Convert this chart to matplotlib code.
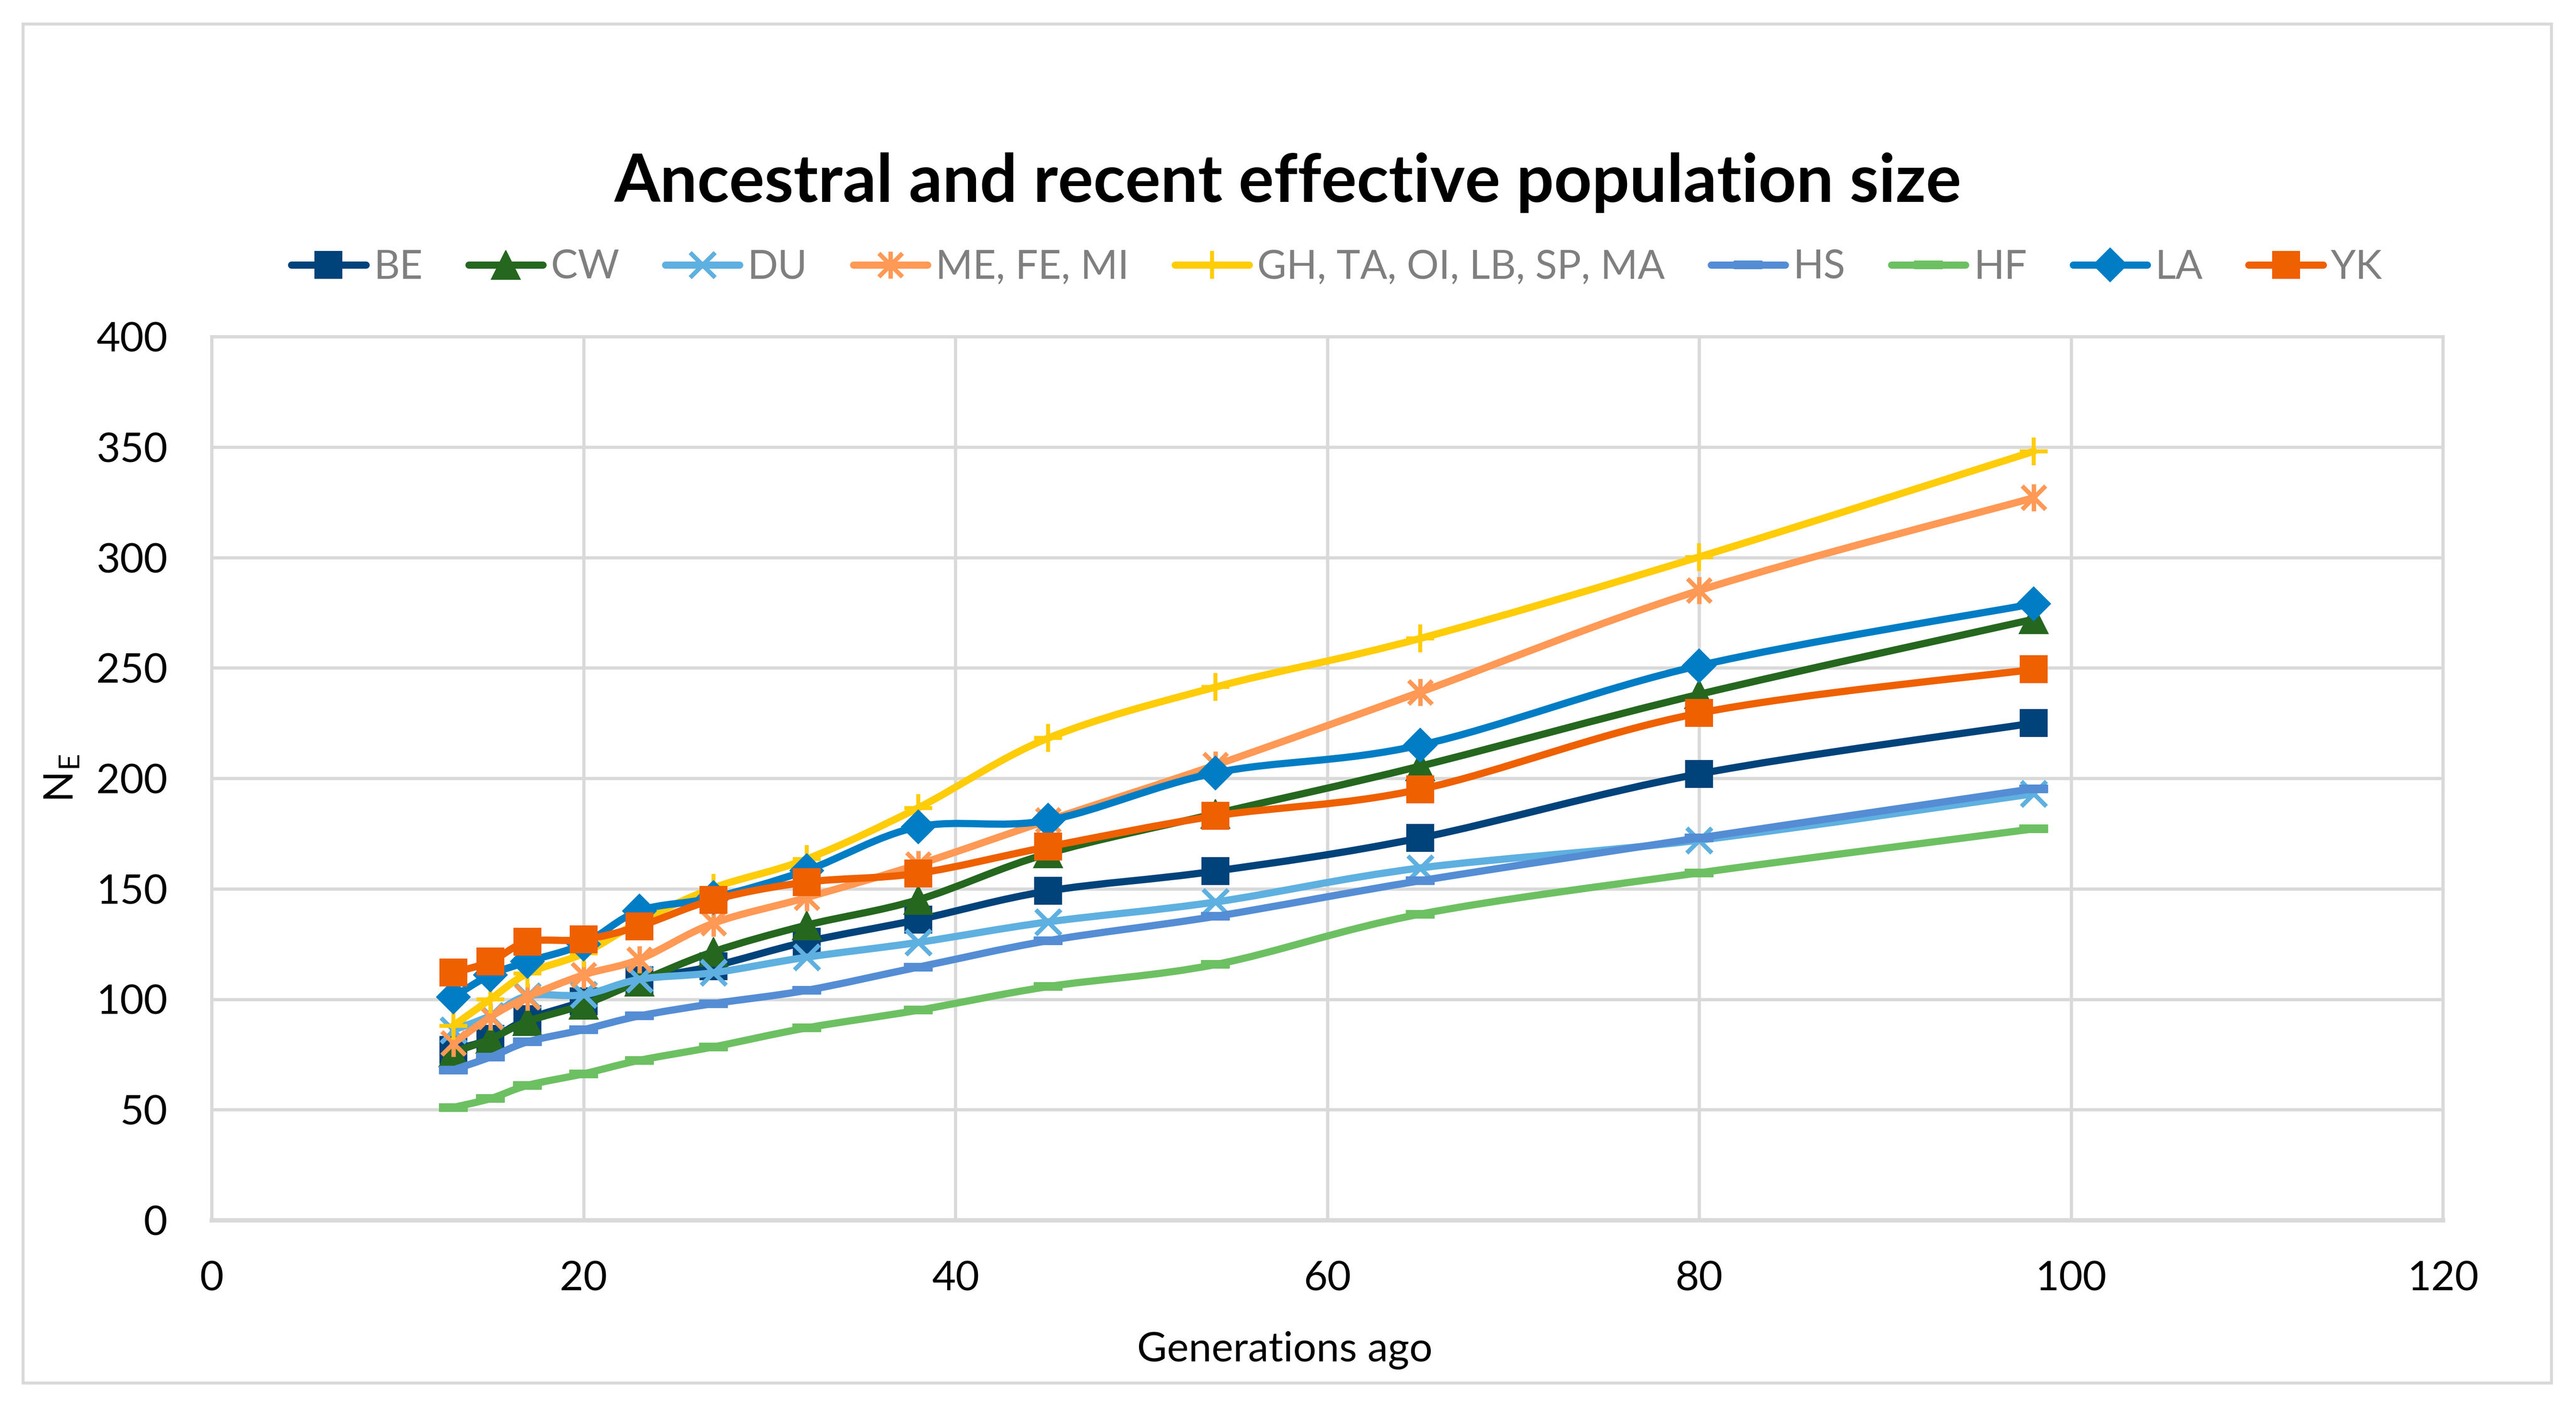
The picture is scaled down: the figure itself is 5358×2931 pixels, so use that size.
import numpy as np
import matplotlib
matplotlib.use("Agg")
import matplotlib.pyplot as plt
from matplotlib.path import Path
from matplotlib.patches import PathPatch, Rectangle
from matplotlib.lines import Line2D

plt.rcParams['font.family'] = ['Lato', 'DejaVu Sans']

# ---------------- data ----------------
generations = [13, 15, 17, 20, 23, 27, 32, 38, 45, 54, 65, 80, 98]

series_names = ["BE", "CW", "DU", "ME, FE, MI", "GH, TA, OI, LB, SP, MA", "HS", "HF", "LA", "YK"]

ne_BE = [77, 82, 91, 99, 108.5, 115, 126, 136, 149, 158, 173, 202, 225]
ne_CW = [76, 82, 90, 97.5, 108, 121.5, 133.5, 145, 166, 184, 205.5, 238, 272]
ne_DU = [86, 92.5, 101.5, 102, 109, 112, 119, 125.7, 135, 144, 159.4, 172, 193]
ne_ME = [80, 92, 101, 111, 118, 134.4, 146, 161, 181, 206, 239, 285, 327]
ne_GH = [88, 100, 111.7, 120.7, 135, 150.4, 163.4, 186.6, 218.2, 241.3, 263.3, 300.2, 348]
ne_HS = [68, 73.8, 80.7, 86.2, 92.4, 98, 104, 114.5, 126.5, 137.5, 153.6, 173, 195.3]
ne_HF = [51, 55, 61, 66.2, 72.3, 78.4, 87, 95, 105.7, 115.7, 138.5, 157.2, 177.1]
ne_LA = [101, 111, 117, 125, 140, 146, 158.3, 178, 181, 202.5, 215, 251, 279]
ne_YK = [112, 117, 126, 127, 133, 145, 153, 157, 169, 183, 195, 229.5, 249.3]

x_ticks = [0, 20, 40, 60, 80, 100, 120]
y_ticks = [0, 50, 100, 150, 200, 250, 300, 350, 400]

# ---------------- styles ----------------
asterisk = Path([(-1, -1), (1, 1), (-1, 1), (1, -1), (0, -1.15), (0, 1.15)],
                [Path.MOVETO, Path.LINETO, Path.MOVETO, Path.LINETO, Path.MOVETO, Path.LINETO])
dash = Path([(-1, -0.27), (1, -0.27), (1, 0.27), (-1, 0.27), (-1, -0.27)],
            [Path.MOVETO, Path.LINETO, Path.LINETO, Path.LINETO, Path.CLOSEPOLY])

styles = [
    dict(color="#00427A", marker="s", ms=13.5, mew=0.5, filled=True),
    dict(color="#25671F", marker="^", ms=14.5, mew=0.5, filled=True),
    dict(color="#5EB0E0", marker="x", ms=12.5, mew=2.2, filled=False),
    dict(color="#FF9955", marker=asterisk, ms=13.5, mew=2.2, filled=False),
    dict(color="#FFCC08", marker="+", ms=14.0, mew=2.0, filled=False),
    dict(color="#548DD4", marker=dash, ms=14.0, mew=0.5, filled=True),
    dict(color="#6DC062", marker=dash, ms=14.0, mew=0.5, filled=True),
    dict(color="#007DC4", marker="D", ms=12.0, mew=0.5, filled=True),
    dict(color="#EE6000", marker="s", ms=13.5, mew=0.5, filled=True),
]
all_values = [ne_BE, ne_CW, ne_DU, ne_ME, ne_GH, ne_HS, ne_HF, ne_LA, ne_YK]

LW = 3.6

W, H = 5358, 2931
fig = plt.figure(figsize=(W / 300, H / 300), dpi=300)
ax = fig.add_axes([440 / W, 1 - 2538 / H, (5081 - 440) / W, (2538 - 700) / H])


def smooth_path(xs, ys):
    pts = np.column_stack([xs, ys]).astype(float)
    n = len(pts)
    verts = [pts[0]]
    codes = [Path.MOVETO]
    for i in range(n - 1):
        p0 = pts[i - 1] if i > 0 else pts[i]
        p1 = pts[i]
        p2 = pts[i + 1]
        p3 = pts[i + 2] if i + 2 < n else pts[i + 1]
        c1 = p1 + (p2 - p0) / 6.0
        c2 = p2 - (p3 - p1) / 6.0
        verts += [c1, c2, p2]
        codes += [Path.CURVE4] * 3
    return Path(verts, codes)


handles = []
for k, (name, vals, st) in enumerate(zip(series_names, all_values, styles)):
    z = 3 + k
    patch = PathPatch(smooth_path(generations, vals), fill=False, edgecolor=st["color"],
                      lw=LW, capstyle="round", joinstyle="round", zorder=z)
    ax.add_patch(patch)
    mfc = st["color"] if st["filled"] else "none"
    ax.plot(generations, vals, linestyle="none", marker=st["marker"], ms=st["ms"],
            mfc=mfc, mec=st["color"], mew=st["mew"], zorder=z + 0.5)
    handles.append(Line2D([], [], color=st["color"], lw=LW, marker=st["marker"], ms=st["ms"],
                          mfc=mfc, mec=st["color"], mew=st["mew"], solid_capstyle="round"))

ax.set_xlim(0, 120)
ax.set_ylim(0, 400)
ax.set_xticks(x_ticks)
ax.set_yticks(y_ticks)
ax.grid(True, color="#D9D9D9", lw=1.6, zorder=0)
ax.set_axisbelow(True)
for s in ["top", "right", "left"]:
    ax.spines[s].set_color("#D9D9D9")
    ax.spines[s].set_linewidth(1.6)
ax.spines["bottom"].set_color("#D9D9D9")
ax.spines["bottom"].set_linewidth(2.2)
ax.tick_params(axis="both", length=0, labelsize=20.5, labelcolor="#000000")
ax.tick_params(axis="y", pad=22)
ax.tick_params(axis="x", pad=20)

ax.set_xlabel("Generations ago", fontsize=20.5, color="#000000", va="center")
ax.xaxis.set_label_coords(0.481, -0.147)
ax.set_ylabel(r"N$_\mathregular{E}$", fontsize=20.5, color="#000000", va="center")
ax.yaxis.set_label_coords(-0.067, 0.5)

fig.text(0.5, 1 - 380 / H, "Ancestral and recent effective population size",
         ha="center", va="center", fontsize=33, fontweight="bold", color="#000000")

fig.legend(handles, series_names, loc="center", bbox_to_anchor=(2781 / W, 1 - 557 / H),
           ncol=9, frameon=False, fontsize=20, labelcolor="#7F7F7F",
           handlelength=1.85, handletextpad=0.2, columnspacing=1.15)

fig.patches.append(Rectangle((48 / W, 1 - 2877 / H), (5307 - 48) / W, (2877 - 50) / H,
                             transform=fig.transFigure, fill=False, ec="#D9D9D9", lw=1.5))

fig.savefig("out.png", dpi=300, facecolor="white")
